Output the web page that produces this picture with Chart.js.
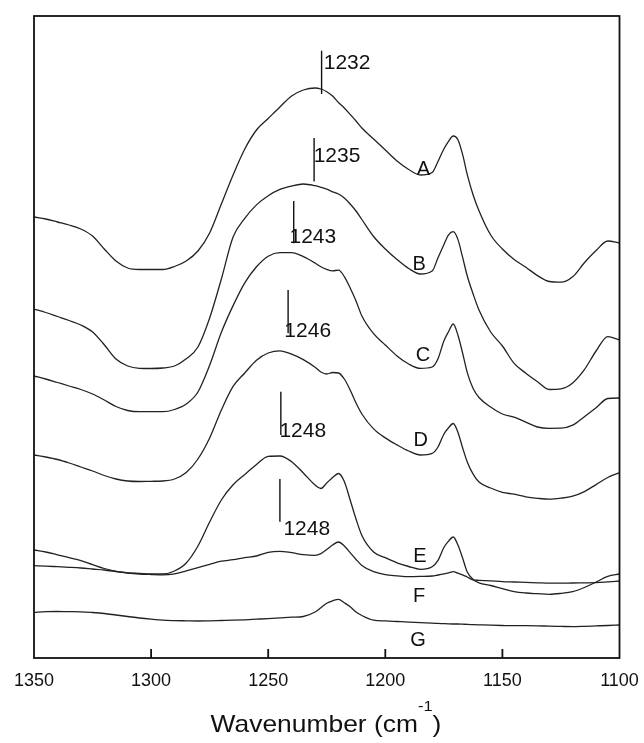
<!DOCTYPE html>
<html>
<head>
<meta charset="utf-8">
<script src="https://cdn.jsdelivr.net/npm/chart.js@4.4.1/dist/chart.umd.min.js"></script>
<style>
  html, body { margin: 0; padding: 0; background: #fff; }
  #wrap { width: 644px; height: 743px; }
</style>
</head>
<body>
<div id="wrap"><canvas id="myChart" width="644" height="743"></canvas></div>
<script>
// wavenumber grid (cm-1), shared by all spectra
const wavenumbers = [1350, 1345, 1340, 1335, 1330, 1325, 1320, 1315, 1310, 1305,
  1300, 1295, 1290, 1285, 1280, 1275, 1270, 1265, 1260, 1255,
  1250, 1245, 1240, 1235, 1230,
  1227.5, 1225, 1222.5, 1220, 1217.5, 1215, 1212.5, 1210,
  1205, 1200, 1195, 1190, 1185, 1180,
  1177.5, 1175, 1173, 1171, 1169, 1167, 1165, 1162.5, 1160,
  1155, 1150, 1145, 1140, 1135, 1130, 1125, 1120, 1115, 1110, 1105, 1100];

// absorbance (arbitrary units, spectra offset as in the figure)
const specA = [441, 439, 436, 433, 429, 422, 409, 397, 390, 388.5,
  388.5, 388.5, 391.5, 397, 407, 425, 454, 483, 509, 528,
  539.5, 551, 562, 568, 570,
  569, 566.3, 562, 555.5, 550, 543.6, 537, 530,
  519, 508, 497, 488.5, 483, 485.5,
  496.5, 509, 516.7, 522, 518.2, 503.6, 483.4, 463, 447.3,
  423, 409, 398.6, 390.8, 382.4, 376.5, 375.8, 381.2, 395.2, 407.4, 417, 415];
const specB = [349, 345.5, 341.5, 337.5, 333, 326, 313.3, 299, 292, 289.7,
  289.5, 290, 292, 299.2, 311, 340, 379, 421, 439.7, 453.1,
  462.3, 468.6, 472, 474, 472.3,
  470.7, 468.8, 466.2, 464, 460, 454, 447, 438.5,
  421.5, 409, 398.5, 389.5, 384, 387,
  400.2, 413.3, 423.1, 426.3, 418.6, 400.8, 382, 364, 348,
  326, 312, 294.6, 284.8, 276.3, 268.5, 269.1, 275, 288.3, 307, 321.4, 318];
const specC = [282, 279, 275.5, 272, 268.5, 264, 258, 251.5, 247.5, 246.3,
  246.3, 246.3, 248.5, 254, 266, 292.7, 325.7, 352.4, 375.2, 391.2,
  401.8, 405.3, 405.3, 401.4, 395,
  391.2, 388.6, 387.2, 387.8, 381.4, 370, 357, 342,
  324.3, 313, 302.1, 294, 289.6, 291,
  299.2, 317, 326.3, 334, 323, 305, 285.4, 269.5, 260.5,
  251, 244, 240.8, 235.9, 231, 229.7, 229.8, 232.8, 241.3, 250.2, 259.5, 260];
const specD = [203, 201, 198.5, 195, 191, 187, 182.5, 179, 177, 176.5,
  176.7, 177, 179, 185.5, 199, 220, 248, 271.6, 285, 297.8,
  305, 307.2, 303.9, 298.4, 290.8,
  286, 284, 285.5, 285, 279, 268, 255, 244,
  229.1, 220.1, 213.1, 207, 203, 204.6,
  211, 223.8, 230.2, 234.5, 225.8, 210.3, 196.1, 183.9, 176,
  170, 165.7, 163.8, 161.2, 159.7, 158.8, 159.8, 161.8, 166.4, 173.4, 180.5, 185.3];
const specE = [108, 106, 103.2, 100.3, 97.4, 93.4, 89.5, 86.7, 85.2, 84.6,
  84, 84, 87, 95, 112, 136, 158, 173.2, 183.6, 193.5,
  201.7, 202, 196.3, 185, 173,
  169.5, 175, 180.5, 184.5, 176.5, 158, 139, 122.5,
  106, 100.3, 95.2, 91.5, 88.7, 91.3,
  97.7, 110.5, 116.9, 121, 113, 100, 86, 78.6, 75.2,
  72.5, 69.4, 66.4, 65, 64.3, 63.7, 64.6, 66.3, 70.5, 76, 81.6, 84];
const specF = [92.3, 91.9, 91.3, 90.7, 90, 89, 88, 86.5, 85, 84,
  83.5, 83.2, 84.2, 87.2, 90.4, 93.7, 96.8, 98.3, 100.4, 102,
  105.7, 106.7, 105.3, 103.4, 102.7,
  104.3, 108.5, 113, 116, 112, 105.4, 98.5, 92.6,
  86.3, 83.3, 82.2, 81.4, 81.6, 82,
  83, 84.1, 85.1, 86.3, 84.8, 83.2, 81, 78.1, 77.7,
  77.1, 76.4, 76, 75.6, 75.2, 74.8, 74.8, 75, 75.1, 75.3, 76.1, 77];
const specG = [45.7, 46.3, 46.5, 46.3, 46.2, 45.5, 44.5, 43, 41.5, 40,
  38.8, 37.8, 37.4, 37.2, 37, 37.2, 37.5, 37.8, 38.2, 38.8,
  39.4, 40.1, 40.8, 41.5, 46,
  50.3, 54.7, 57.2, 58.7, 55.2, 51.2, 46, 42.5,
  37.8, 37.1, 36.5, 35.9, 35.4, 34.8,
  34.6, 34.3, 34.1, 34, 34, 33.8, 33.6, 33.4, 33.2,
  32.8, 32.5, 32.3, 32.3, 32.2, 31.8, 31.6, 31.4, 31.7, 32.1, 32.5, 33];

const spectra = [specA, specB, specC, specD, specE, specF, specG];
const curveNames = ["A", "B", "C", "D", "E", "F", "G"];
const nameX = [1183.7, 1185.5, 1183.9, 1184.9, 1185.2, 1185.6, 1186];
const nameY = [489, 394, 303, 217.5, 102, 62, 17.5];

// peak markers
const peakText = ["1232", "1235", "1243", "1246", "1248", "1248"];
const peakX = [1227.2, 1230.4, 1239.1, 1241.5, 1244.6, 1245];
const peakTop = [607.3, 520, 457, 368, 266.3, 179];
const peakBottom = [564, 476.5, 414.7, 324.7, 223, 136.3];
const peakTextX = [1226.3, 1230.6, 1240.9, 1243.1, 1245.2, 1243.5];
const peakTextY = [594.7, 502.2, 421.2, 327, 226.3, 128.5];

const xTicks = [1350, 1300, 1250, 1200, 1150, 1100];

const FONT = '"Liberation Sans", Arial, Helvetica, sans-serif';
Chart.defaults.font.family = FONT;

// frame, inward ticks, peak marks, letters and axis title
const decor = {
  id: "decor",
  beforeDraw(chart) {
    const c = chart.ctx;
    c.save();
    c.fillStyle = "#fff";
    c.fillRect(0, 0, chart.width, chart.height);
    c.restore();
  },
  afterDraw(chart) {
    const ctx = chart.ctx;
    const a = chart.chartArea;
    const x = chart.scales.x;
    const y = chart.scales.y;
    ctx.save();
    ctx.strokeStyle = "#111";
    ctx.lineWidth = 1.8;
    ctx.strokeRect(a.left, a.top, a.right - a.left, a.bottom - a.top);
    x.ticks.forEach((t) => {
      if (t.value > x.min && t.value < x.max) {
        const px = x.getPixelForValue(t.value);
        ctx.beginPath();
        ctx.moveTo(px, a.bottom);
        ctx.lineTo(px, a.bottom - 9);
        ctx.stroke();
      }
    });

    ctx.lineWidth = 1.4;
    ctx.fillStyle = "#111";
    ctx.font = "21px " + FONT;
    ctx.textAlign = "left";
    ctx.textBaseline = "middle";
    peakText.forEach((s, i) => {
      const px = x.getPixelForValue(peakX[i]);
      ctx.beginPath();
      ctx.moveTo(px, y.getPixelForValue(peakTop[i]));
      ctx.lineTo(px, y.getPixelForValue(peakBottom[i]));
      ctx.stroke();
      ctx.fillText(s, x.getPixelForValue(peakTextX[i]), y.getPixelForValue(peakTextY[i]));
    });

    ctx.font = "20px " + FONT;
    ctx.textAlign = "center";
    curveNames.forEach((s, i) => {
      ctx.fillText(s, x.getPixelForValue(nameX[i]), y.getPixelForValue(nameY[i]));
    });

    // axis title with superscript, slightly wide like the scan
    const big = "24px " + FONT, small = "15px " + FONT;
    const t1 = "Wavenumber (cm", t2 = "-1", t3 = ")";
    const sx = 1.1;
    ctx.font = big;
    const w1 = ctx.measureText(t1).width, w3 = ctx.measureText(t3).width;
    ctx.font = small;
    const w2 = ctx.measureText(t2).width;
    const total = (w1 + w2 + w3) * sx;
    ctx.translate(326 - total / 2, 732);
    ctx.scale(sx, 1);
    ctx.textAlign = "left";
    ctx.textBaseline = "alphabetic";
    ctx.font = big;
    ctx.fillText(t1, 0, 0);
    ctx.font = small;
    ctx.fillText(t2, w1, -21);
    ctx.font = big;
    ctx.fillText(t3, w1 + w2, 0);
    ctx.restore();
  }
};

const ctx = document.getElementById("myChart").getContext("2d");
const chart = new Chart(ctx, {
  type: "line",
  data: {
    datasets: spectra.map((s, i) => ({
      label: curveNames[i],
      data: wavenumbers.map((w, j) => ({ x: w, y: s[j] })),
      borderColor: "#222",
      borderWidth: 1.3,
      pointRadius: 0,
      fill: false,
      cubicInterpolationMode: "monotone",
    })),
  },
  options: {
    responsive: false,
    animation: false,
    events: [],
    layout: { padding: { left: 34, right: 24.5, top: 16, bottom: 0 } },
    plugins: { legend: { display: false }, tooltip: { enabled: false } },
    scales: {
      x: {
        type: "linear",
        reverse: true,
        min: 1100,
        max: 1350,
        afterBuildTicks: (s) => { s.ticks = xTicks.map((v) => ({ value: v })); },
        afterFit: (s) => { s.paddingLeft = 0; s.paddingRight = 0; s.height = 85; },
        grid: { display: false, drawTicks: false },
        border: { display: false },
        ticks: {
          padding: 12, color: "#111", font: { size: 18 }, maxRotation: 0, autoSkip: false,
          callback: (v) => String(v),
        },
      },
      y: { display: false, min: 0, max: 642 },
    },
  },
  plugins: [decor],
});
</script>
</body>
</html>
